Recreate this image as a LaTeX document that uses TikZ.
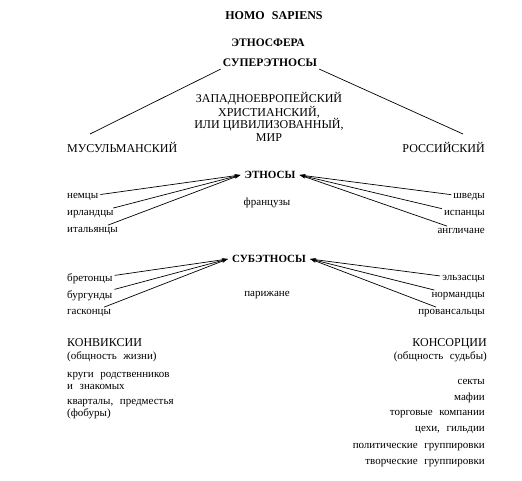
\documentclass[tikz,border=0pt]{standalone}
\usepackage{fontspec}
\setmainfont{Liberation Serif}
\usetikzlibrary{arrows.meta}

\tikzstyle{head} = [font = \fontsize{11}{13}\selectfont\bfseries, inner sep = 2pt]
\tikzstyle{word} = [font = \fontsize{11}{12.5}\selectfont, inner sep = 2pt]
\tikzstyle{caps} = [font = \fontsize{12}{12.5}\selectfont, inner sep = 2pt]
\tikzstyle{link} = [-{Stealth[length = 6pt, width = 3.5pt]}, line width = 0.7pt]
\newcommand{\wsp}{\hspace{0.6em}}

\begin{document}
\begin{tikzpicture}[x = 1pt, y = -1pt]
		\useasboundingbox (0, 0) rectangle (522, 481);
		\node [head, font = \fontsize{12}{13}\selectfont\bfseries] at (274, 16) (1) {HOMO\wsp SAPIENS};
		\node [head, font = \fontsize{11.5}{13}\selectfont\bfseries] at (268, 43) (2) {ЭТНОСФЕРА};
		\node [head, font = \fontsize{11.6}{13}\selectfont\bfseries] at (270, 63) (3) {СУПЕРЭТНОСЫ};
		\node [caps, align = center] at (269, 117) (4) {ЗАПАДНОЕВРОПЕЙСКИЙ\\ХРИСТИАНСКИЙ,\\ИЛИ ЦИВИЛИЗОВАННЫЙ,\\МИР};
		\node [caps, anchor = west] at (65, 147) (5) {МУСУЛЬМАНСКИЙ};
		\node [caps, anchor = east] at (487, 147) (6) {РОССИЙСКИЙ};
		\coordinate (5a) at (90, 134);
		\coordinate (6a) at (463, 134);
		\draw [line width = 0.7pt] (3.south west) -- (5a);
		\draw [line width = 0.7pt] (3.south east) -- (6a);

		% ethnoses
		\node [head, inner sep = 4pt] at (270, 175) (7) {ЭТНОСЫ};
		\node [word, anchor = west] at (65, 197) (8) {немцы};
		\node [word, anchor = west] at (65, 214) (9) {ирландцы};
		\node [word, anchor = west] at (65, 231) (10) {итальянцы};
		\node [word, anchor = east] at (487, 197) (11) {шведы};
		\node [word, anchor = east] at (487, 214) (12) {испанцы};
		\node [word, anchor = east] at (487, 231) (13) {англичане};
		\node [word] at (267, 203) (14) {французы};
		\draw [link] (8) -- (7.west);
		\draw [link] (9) -- (7.west);
		\draw [link] (10) -- (7.west);
		\draw [link] (11) -- (7.east);
		\draw [link] (12) -- (7.east);
		\draw [link] (13) -- (7.east);

		% subethnoses
		\node [head, inner sep = 4pt] at (269, 259) (15) {СУБЭТНОСЫ};
		\node [word, anchor = west] at (65, 279) (16) {бретонцы};
		\node [word, anchor = west] at (65, 296) (17) {бургунды};
		\node [word, anchor = west] at (65, 313) (18) {гасконцы};
		\node [word, anchor = east] at (487, 279) (19) {эльзасцы};
		\node [word, anchor = east] at (487, 296) (20) {нормандцы};
		\node [word, anchor = east] at (487, 313) (21) {провансальцы};
		\node [word] at (267, 295) (22) {парижане};
		\draw [link] (16) -- (15.west);
		\draw [link] (17) -- (15.west);
		\draw [link] (18) -- (15.west);
		\draw [link] (19) -- (15.east);
		\draw [link] (20) -- (15.east);
		\draw [link] (21) -- (15.east);

		% convixia and consortia
		\node [word, anchor = west, align = left] at (65, 350) (23) {{\fontsize{12}{12.5}\selectfont КОНВИКСИИ}\\(общность\wsp жизни)};
		\node [word, anchor = west, align = left] at (65, 381) (24) {круги\wsp родственников\\и\wsp знакомых};
		\node [word, anchor = west, align = left] at (65, 409) (25) {кварталы,\wsp предместья\\(фобуры)};
		\node [word, anchor = east, align = right] at (489, 350) (26) {{\fontsize{12}{12.5}\selectfont КОНСОРЦИИ}\\(общность\wsp судьбы)};
		\node [word, anchor = east] at (487, 382) (27) {секты};
		\node [word, anchor = east] at (487, 398) (28) {мафии};
		\node [word, anchor = east] at (487, 414) (29) {торговые\wsp компании};
		\node [word, anchor = east] at (487, 430) (30) {цехи,\wsp гильдии};
		\node [word, anchor = east] at (487, 447) (31) {политические\wsp группировки};
		\node [word, anchor = east] at (487, 463) (32) {творческие\wsp группировки};
	\end{tikzpicture}
\end{document}
